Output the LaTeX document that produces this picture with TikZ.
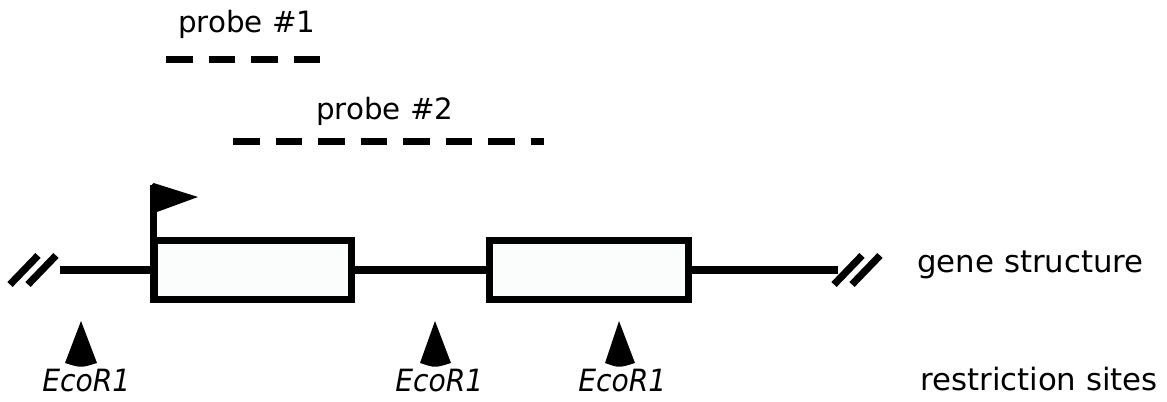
\documentclass[tikz,border=0pt]{standalone}
\usepackage{fontspec}
\setmainfont{DejaVu Sans}
\newfontfamily\sitefont[FakeStretch=0.92]{DejaVu Sans}
\definecolor{exonfill}{RGB}{251,252,252}
\tikzset{
  px/.style={x=0.75pt,y=-0.75pt},
  thick line/.style={line width=5.6pt},
  exon/.style={draw,thick line,fill=exonfill,rectangle,inner sep=0pt,minimum height=43.9pt},
  probeline/.style={line width=5.5pt,dash pattern=on 20pt off 11.9pt},
  breakbar/.style={line width=5.4pt,line cap=butt},
  label/.style={anchor=base west,inner sep=0pt,font=\fontsize{23.1}{27}\selectfont},
  probelabel/.style={anchor=base west,inner sep=0pt,font=\fontsize{22}{26}\selectfont},
  sitelabel/.style={anchor=base west,inner sep=0pt,font=\sitefont\itshape\fontsize{23}{27}\selectfont},
  site/.style={fill=black},
}
\begin{document}
\begin{tikzpicture}[px]
\useasboundingbox (0,0) rectangle (1167,402);

% probes
\node[probelabel] (p1label) at (178,33) {probe \#1};
\coordinate (p1a) at (166,59.7);
\coordinate (p1b) at (322,59.7);
\draw[probeline] (p1a) -- (p1b);

\node[probelabel] (p2label) at (316,120) {probe \#2};
\coordinate (p2a) at (233,141.3);
\coordinate (p2b) at (544,141.3);
\draw[probeline] (p2a) -- (p2b);

% exons
\node[exon,minimum width=148.1pt] (exon1) at (252.5,270) {};
\node[exon,minimum width=148.9pt] (exon2) at (589,270) {};

% backbone
\coordinate (left) at (60,270);
\coordinate (right) at (838,270);
\draw[thick line] (left) -- (exon1.west);
\draw[thick line] (exon1.east) -- (exon2.west);
\draw[thick line] (exon2.east) -- (right);

% break marks
\foreach \cx in {24,42,848,866}
  \draw[breakbar] (\cx-14,284.5) -- (\cx+14,255.5);

% transcription start flag
\coordinate (pole) at (153.5,237);
\draw[line width=5.3pt] (pole) -- (153.5,185);
\fill (150,214) -- (150,187) -- (153.5,183) -- (198,197) -- (157,212) -- cycle;

% EcoR1 sites
\foreach \ax/\bl/\br in {81/65/97, 435/420/451, 619/605/635}
  \fill[site] (\ax,321) -- (\bl,363) .. controls (\ax,368) .. (\br,363) -- cycle;

\node[sitelabel] (s1) at (42,392) {EcoR1};
\node[sitelabel] (s2) at (395,392) {EcoR1};
\node[sitelabel] (s3) at (578,392) {EcoR1};

% row labels
\node[label] (gene) at (917,273) {gene structure};
\node[label] (sites) at (920,391) {restriction sites};
\end{tikzpicture}
\end{document}
